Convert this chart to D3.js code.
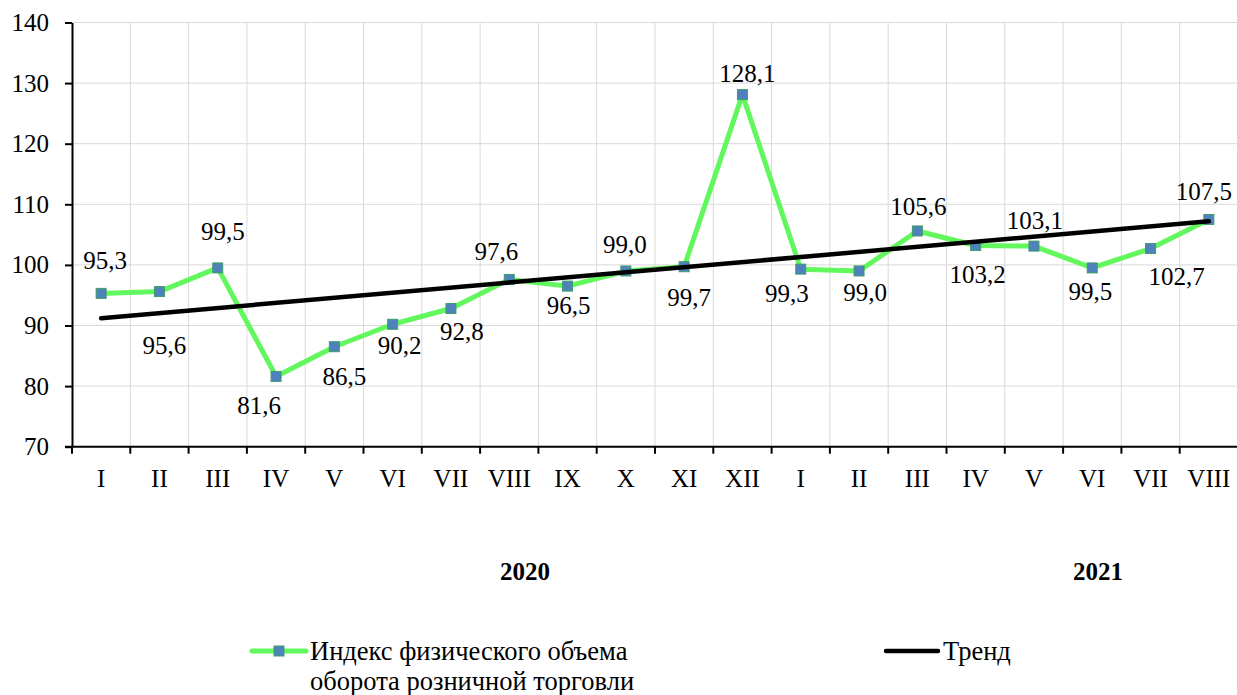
<!DOCTYPE html>
<html>
<head>
<meta charset="utf-8">
<script src="https://cdn.jsdelivr.net/npm/d3@7"></script>
<style>
  body { margin: 0; background: #fff; }
  svg text { font-family: 'Liberation Serif', 'Tinos', 'DejaVu Serif', serif; fill: #000; }
</style>
</head>
<body>
<script>
// data
const months = ['I','II','III','IV','V','VI','VII','VIII','IX','X','XI','XII',
                'I','II','III','IV','V','VI','VII','VIII']
const values = [95.3, 95.6, 99.5, 81.6, 86.5, 90.2, 92.8, 97.6, 96.5, 99.0, 99.7, 128.1,
                99.3, 99.0, 105.6, 103.2, 103.1, 99.5, 102.7, 107.5]
const trendEnds = [91.2, 107.2]   // trend at first and last month
const years = ['2020', '2021']
const yTicks = [70, 80, 90, 100, 110, 120, 130, 140]
const seriesName = ['Индекс физического объема', 'оборота розничной торговли']
const trendName = 'Тренд'

// label offsets from the point (dx, dy)
const labelOff = [[4,-33],[5,54],[5,-36],[-17,29],[10,30],[7,21],[11,23],[-13,-28],[1,19],[-1,-26],
                  [5,31],[5,-21],[-14,24],[6,22],[1,-24],[2,29],[1,-26],[-2,24],[26,28],[-5,-28]]

const width = 1237, height = 695
const m = { left: 72, right: 1238, top: 22.5, bottom: 446.7 }
const green = '#63f75e', blue = '#4f81bd'
const serif = "'Liberation Serif', 'Tinos', 'DejaVu Serif', serif"
const fs = 25

const svg = d3.select('body').append('svg')
  .attr('width', width)
  .attr('height', height)
  .attr('font-family', serif)

const idx = d3.range(months.length)
const x = d3.scaleBand().domain(idx).range([m.left, m.right]).padding(0)
const y = d3.scaleLinear().domain([70, 140]).range([m.bottom, m.top])
const cx = i => x(i) + x.bandwidth() / 2

// grid
svg.append('g').selectAll('line')
  .data(yTicks.slice(1))
  .join('line')
  .attr('x1', m.left).attr('x2', m.right)
  .attr('y1', d => y(d)).attr('y2', d => y(d))
  .attr('stroke', '#d9d9d9').attr('stroke-width', 1)

svg.append('g').selectAll('line')
  .data(idx.slice(1))
  .join('line')
  .attr('x1', d => x(d)).attr('x2', d => x(d))
  .attr('y1', m.top).attr('y2', m.bottom)
  .attr('stroke', '#d9d9d9').attr('stroke-width', 1)

// y axis
const yAxis = svg.append('g')
  .attr('transform', `translate(${m.left},0)`)
  .call(d3.axisLeft(y).tickValues(yTicks).tickSize(7).tickPadding(16).tickSizeOuter(0))
yAxis.attr('font-family', serif).attr('font-size', fs)
yAxis.select('.domain').attr('stroke', '#000').attr('stroke-width', 2)
yAxis.selectAll('.tick line').attr('stroke', '#000').attr('stroke-width', 2)

// x axis
svg.append('line')
  .attr('x1', m.left - 7).attr('x2', m.right)
  .attr('y1', m.bottom).attr('y2', m.bottom)
  .attr('stroke', '#000').attr('stroke-width', 2)

svg.append('g').selectAll('line')
  .data(idx)
  .join('line')
  .attr('x1', d => x(d)).attr('x2', d => x(d))
  .attr('y1', m.bottom).attr('y2', m.bottom + 7)
  .attr('stroke', '#000').attr('stroke-width', 2)

svg.append('g').selectAll('text')
  .data(idx)
  .join('text')
  .attr('x', d => cx(d))
  .attr('y', 487)
  .attr('text-anchor', 'middle')
  .attr('font-size', fs)
  .text(d => months[d])

svg.append('g').selectAll('text')
  .data(years)
  .join('text')
  .attr('x', (d, i) => [525, 1098][i])
  .attr('y', 580)
  .attr('text-anchor', 'middle')
  .attr('font-size', 25)
  .attr('font-weight', 'bold')
  .text(d => d)

// series
const line = d3.line().x((d, i) => cx(i)).y(d => y(d))
svg.append('path')
  .datum(values)
  .attr('d', line)
  .attr('fill', 'none')
  .attr('stroke', green)
  .attr('stroke-width', 5)
  .attr('stroke-linejoin', 'round')
  .attr('stroke-linecap', 'round')

svg.append('g').selectAll('rect')
  .data(values)
  .join('rect')
  .attr('x', (d, i) => cx(i) - 5)
  .attr('y', d => y(d) - 5)
  .attr('width', 10).attr('height', 10)
  .attr('fill', blue)
  .attr('stroke', '#3c9e68').attr('stroke-width', 1)

// trend
svg.append('path')
  .datum(trendEnds)
  .attr('d', d3.line().x((d, i) => cx(i * (months.length - 1))).y(d => y(d)))
  .attr('stroke', '#000')
  .attr('stroke-width', 4.5)
  .attr('stroke-linecap', 'round')

// data labels
svg.append('g').selectAll('text')
  .data(values)
  .join('text')
  .attr('x', (d, i) => cx(i) + labelOff[i][0])
  .attr('y', (d, i) => y(d) + labelOff[i][1])
  .attr('text-anchor', 'middle')
  .attr('dominant-baseline', 'central')
  .attr('font-size', fs)
  .text(d => d3.format('.1f')(d).replace('.', ','))

// legend
const lg = svg.append('g')
lg.append('line')
  .attr('x1', 252).attr('x2', 306).attr('y1', 651).attr('y2', 651)
  .attr('stroke', green).attr('stroke-width', 5).attr('stroke-linecap', 'round')
lg.append('rect')
  .attr('x', 274).attr('y', 646).attr('width', 10).attr('height', 10)
  .attr('fill', blue).attr('stroke', '#3c9e68')
lg.selectAll('text.s')
  .data(seriesName)
  .join('text')
  .attr('class', 's')
  .attr('x', 310)
  .attr('y', (d, i) => 660 + i * 30)
  .attr('font-size', 26.5)
  .text(d => d)

lg.append('line')
  .attr('x1', 886).attr('x2', 938).attr('y1', 651).attr('y2', 651)
  .attr('stroke', '#000').attr('stroke-width', 4.5).attr('stroke-linecap', 'round')
lg.append('text')
  .attr('x', 943).attr('y', 660)
  .attr('font-size', 26.5)
  .text(trendName)
</script>
</body>
</html>
